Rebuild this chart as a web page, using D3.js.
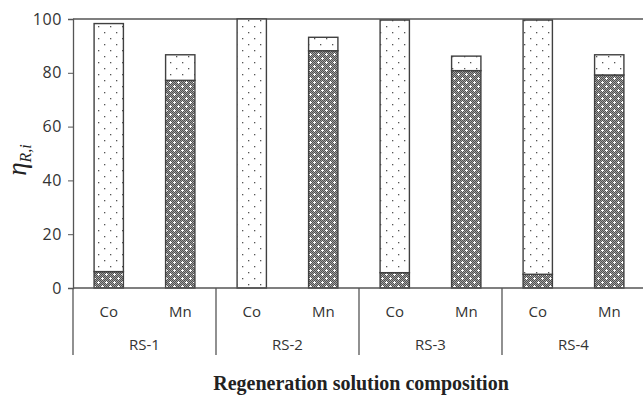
<!DOCTYPE html>
<html>
<head>
<meta charset="utf-8">
<script src="https://cdn.jsdelivr.net/npm/d3@7"></script>
<style>
  body { margin: 0; background: #fff; }
  svg { display: block; }
  .tick text { font-family: "Open Sans", "Noto Sans", sans-serif; font-size: 16px; letter-spacing: 0.6px; fill: #333; }
</style>
</head>
<body>
<svg id="chart" width="643" height="399"></svg>
<script>
// values
var groups = ["RS-1", "RS-2", "RS-3", "RS-4"];
var metals = ["Co", "Mn"];
var lowerPart = [6.1, 77.2, 0, 88.2, 5.7, 80.8, 5.1, 79.2];   // dark hatched segment
var upperPart = [92.2, 9.5, 100, 5.0, 93.9, 5.4, 94.5, 7.5];  // dotted segment
var yTicks = [0, 20, 40, 60, 80, 100];


var svg = d3.select("#chart");
var plotLeft = 73, plotRight = 645, plotTop = 19, plotBottom = 288;

var leaves = [];
groups.forEach(function(g) {
  metals.forEach(function(m) { leaves.push(g + "|" + m); });
});

var rows = leaves.map(function(k, i) {
  return { key: k, lower: lowerPart[i], upper: upperPart[i] };
});

var x = d3.scaleBand()
  .domain(leaves)
  .range([plotLeft, plotRight])
  .paddingInner(0.59)
  .paddingOuter(0.295);

var xGroup = d3.scaleBand()
  .domain(groups)
  .range([plotLeft, plotRight]);

var y = d3.scaleLinear()
  .domain([0, 100])
  .range([plotBottom, plotTop]);

/* patterns */
var defs = svg.append("defs");

var dark = defs.append("pattern")
  .attr("id", "darkPat")
  .attr("patternUnits", "userSpaceOnUse")
  .attr("width", 8).attr("height", 8);
dark.append("rect").attr("width", 8).attr("height", 8).attr("fill", "#a0a0a0");
for (var i = 0; i < 8; i++) {
  for (var j = 0; j < 8; j++) {
    if ((i + j) % 2 == 0)
      dark.append("rect").attr("x", i).attr("y", j).attr("width", 1).attr("height", 1).attr("fill", "#505050");
  }
}
[[2, 2], [6, 6]].forEach(function(p) {
  dark.append("rect").attr("x", p[0] - 1).attr("y", p[1]).attr("width", 3).attr("height", 1).attr("fill", "#fff");
  dark.append("rect").attr("x", p[0]).attr("y", p[1] - 1).attr("width", 1).attr("height", 3).attr("fill", "#fff");
});

var dots = defs.append("pattern")
  .attr("id", "dotPat")
  .attr("patternUnits", "userSpaceOnUse")
  .attr("width", 12).attr("height", 12);
dots.append("rect").attr("width", 12).attr("height", 12).attr("fill", "#fff");
[[2, 2], [8, 8]].forEach(function(p) {
  dots.append("rect").attr("x", p[0]).attr("y", p[1]).attr("width", 1.3).attr("height", 1.3).attr("fill", "#555");
});

/* top border */
svg.append("line")
  .attr("x1", plotLeft).attr("x2", plotRight)
  .attr("y1", y(100)).attr("y2", y(100))
  .attr("stroke", "#555").attr("stroke-width", 1.3);

/* bars */
var stack = d3.stack().keys(["lower", "upper"]);
var series = stack(rows);
var fills = { lower: "url(#darkPat)", upper: "url(#dotPat)" };

series.forEach(function(s) {
  svg.append("g")
    .selectAll("rect")
    .data(s.filter(function(d) { return d[1] - d[0] > 0; }))
    .enter().append("rect")
    .attr("x", function(d) { return x(d.data.key); })
    .attr("width", x.bandwidth())
    .attr("y", function(d) { return y(d[1]); })
    .attr("height", function(d) { return y(d[0]) - y(d[1]); })
    .attr("fill", fills[s.key])
    .attr("stroke", "#404040")
    .attr("stroke-width", 1.4);
});

/* y axis */
var yAxis = svg.append("g")
  .attr("transform", "translate(" + plotLeft + ",0)")
  .call(d3.axisLeft(y).tickValues(yTicks).tickSize(5).tickPadding(6));
yAxis.select(".domain").attr("stroke", "#555").attr("stroke-width", 1.3);
yAxis.selectAll(".tick line").attr("stroke", "#555");

/* left line continues down through label area */
svg.append("line")
  .attr("x1", plotLeft).attr("x2", plotLeft)
  .attr("y1", plotBottom).attr("y2", 355)
  .attr("stroke", "#555").attr("stroke-width", 1.3);

/* x baseline */
svg.append("line")
  .attr("x1", plotLeft).attr("x2", plotRight)
  .attr("y1", plotBottom).attr("y2", plotBottom)
  .attr("stroke", "#555").attr("stroke-width", 1.3);

/* group separators */
svg.append("g")
  .selectAll("line")
  .data(groups.slice(1))
  .enter().append("line")
  .attr("x1", function(d) { return xGroup(d); })
  .attr("x2", function(d) { return xGroup(d); })
  .attr("y1", plotBottom).attr("y2", 355)
  .attr("stroke", "#555").attr("stroke-width", 1.3);

/* metal labels */
svg.append("g")
  .selectAll("text")
  .data(leaves)
  .enter().append("text")
  .attr("x", function(d) { return x(d) + x.bandwidth() / 2; })
  .attr("y", 317)
  .attr("text-anchor", "middle")
  .style("font-family", "'Open Sans', 'Noto Sans', sans-serif")
  .style("font-size", "15px")
  .attr("fill", "#333")
  .text(function(d) { return d.split("|")[1]; });

/* group labels */
svg.append("g")
  .selectAll("text")
  .data(groups)
  .enter().append("text")
  .attr("x", function(d) { return xGroup(d) + xGroup.bandwidth() / 2; })
  .attr("y", 350)
  .attr("text-anchor", "middle")
  .style("font-family", "'Open Sans', 'Noto Sans', sans-serif")
  .style("font-size", "15px")
  .attr("fill", "#333")
  .text(function(d) { return d; });

/* axis titles */
svg.append("text")
  .attr("x", 361)
  .attr("y", 390)
  .attr("text-anchor", "middle")
  .style("font-family", "'Liberation Serif', 'Times New Roman', serif")
  .style("font-weight", "bold")
  .style("font-size", "20px")
  .attr("fill", "#222")
  .text("Regeneration solution composition");

var yt = svg.append("text")
  .attr("transform", "translate(26,160) rotate(-90)")
  .attr("text-anchor", "middle")
  .style("font-family", "'Liberation Serif', 'Times New Roman', serif")
  .style("font-style", "italic")
  .attr("fill", "#222");
yt.append("tspan").style("font-size", "27px").text("η");
yt.append("tspan").style("font-size", "16px").attr("dy", 5).text("R,i");
</script>
</body>
</html>
